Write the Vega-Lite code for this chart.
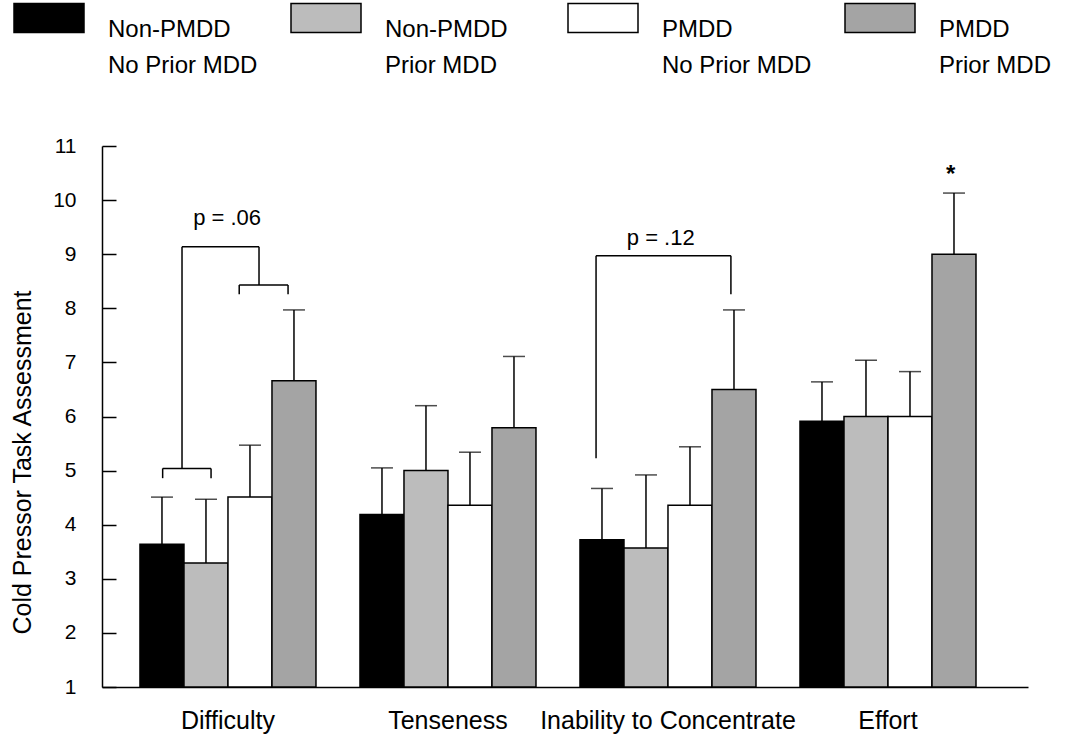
{
  "$schema": "https://vega.github.io/schema/vega-lite/v6.json",
  "width": 926,
  "height": 541,
  "autosize": {"type": "none"},
  "padding": {"left": 102, "top": 146, "right": 50, "bottom": 53},
  "background": "white",
  "config": {
    "font": "Liberation Sans",
    "view": {"stroke": null},
    "style": {"guide-label": {"lineHeight": 36}},
    "axis": {"labelColor": "black", "titleColor": "black", "domainColor": "black", "tickColor": "black", "grid": false, "domainWidth": 1.5, "tickWidth": 1.5, "labelLimit": 400}
  },
  "datasets": {
    "bars": [
      {"measure": "Difficulty", "group": "Non-PMDD, No Prior MDD", "mean": 3.64, "upper": 4.51},
      {"measure": "Difficulty", "group": "Non-PMDD, Prior MDD", "mean": 3.29, "upper": 4.47},
      {"measure": "Difficulty", "group": "PMDD, No Prior MDD", "mean": 4.51, "upper": 5.47},
      {"measure": "Difficulty", "group": "PMDD, Prior MDD", "mean": 6.66, "upper": 7.97},
      {"measure": "Tenseness", "group": "Non-PMDD, No Prior MDD", "mean": 4.19, "upper": 5.05},
      {"measure": "Tenseness", "group": "Non-PMDD, Prior MDD", "mean": 5.0, "upper": 6.2},
      {"measure": "Tenseness", "group": "PMDD, No Prior MDD", "mean": 4.36, "upper": 5.34},
      {"measure": "Tenseness", "group": "PMDD, Prior MDD", "mean": 5.79, "upper": 7.11},
      {"measure": "Inability to Concentrate", "group": "Non-PMDD, No Prior MDD", "mean": 3.72, "upper": 4.67},
      {"measure": "Inability to Concentrate", "group": "Non-PMDD, Prior MDD", "mean": 3.57, "upper": 4.92},
      {"measure": "Inability to Concentrate", "group": "PMDD, No Prior MDD", "mean": 4.36, "upper": 5.44},
      {"measure": "Inability to Concentrate", "group": "PMDD, Prior MDD", "mean": 6.5, "upper": 7.97},
      {"measure": "Effort", "group": "Non-PMDD, No Prior MDD", "mean": 5.91, "upper": 6.64},
      {"measure": "Effort", "group": "Non-PMDD, Prior MDD", "mean": 6.0, "upper": 7.04},
      {"measure": "Effort", "group": "PMDD, No Prior MDD", "mean": 6.0, "upper": 6.83},
      {"measure": "Effort", "group": "PMDD, Prior MDD", "mean": 9.0, "upper": 10.13}
    ],
    "brackets": [
      {"x": 0.703, "x2": 0.923, "y": 5.04, "y2": 5.04},
      {"x": 0.703, "x2": 0.703, "y": 5.04, "y2": 4.86},
      {"x": 0.923, "x2": 0.923, "y": 5.04, "y2": 4.86},
      {"x": 0.791, "x2": 0.791, "y": 5.04, "y2": 9.14},
      {"x": 0.791, "x2": 1.141, "y": 9.14, "y2": 9.14},
      {"x": 1.141, "x2": 1.141, "y": 9.14, "y2": 8.43},
      {"x": 1.051, "x2": 1.273, "y": 8.43, "y2": 8.43},
      {"x": 1.051, "x2": 1.051, "y": 8.43, "y2": 8.26},
      {"x": 1.273, "x2": 1.273, "y": 8.43, "y2": 8.26},
      {"x": 2.673, "x2": 2.673, "y": 5.23, "y2": 8.97},
      {"x": 2.673, "x2": 3.286, "y": 8.97, "y2": 8.97},
      {"x": 3.286, "x2": 3.286, "y": 8.97, "y2": 8.26}
    ],
    "notes": [
      {"label": "p = .06", "x": 0.996, "y": 9.66},
      {"label": "p = .12", "x": 2.967, "y": 9.3}
    ],
    "stars": [
      {"label": "*", "x": 4.285, "y": 10.46}
    ]
  },
  "layer": [
    {
      "data": {"name": "bars"},
      "layer": [
        {
          "mark": {"type": "bar", "stroke": "black", "strokeWidth": 1.5},
          "encoding": {
            "x": {
              "field": "measure", "type": "nominal",
              "scale": {"domain": ["Difficulty", "Tenseness", "Inability to Concentrate", "Effort"], "paddingInner": 0.2, "paddingOuter": 0.2045, "align": 0.422},
              "axis": {"title": null, "ticks": false, "labelAngle": 0, "labelFontSize": 25, "labelPadding": 21, "labelColor": "black", "labelLimit": 400}
            },
            "xOffset": {
              "field": "group", "type": "nominal",
              "scale": {"domain": ["Non-PMDD, No Prior MDD", "Non-PMDD, Prior MDD", "PMDD, No Prior MDD", "PMDD, Prior MDD"], "paddingInner": 0, "paddingOuter": 0}
            },
            "y": {
              "field": "mean", "type": "quantitative",
              "scale": {"domain": [1, 11], "nice": false, "zero": false},
              "axis": {
                "values": [1, 2, 3, 4, 5, 6, 7, 8, 9, 10, 11],
                "tickSize": -14, "labelPadding": 40, "labelFontSize": 21,
                "title": "Cold Pressor Task Assessment", "titleFontSize": 25, "titleFontWeight": "normal",
                "titleX": -72, "titleY": 316, "titleBaseline": "alphabetic", "titleAngle": -90, "titleAlign": "center"
              }
            },
            "y2": {"datum": 1},
            "fill": {
              "field": "group", "type": "nominal",
              "scale": {"domain": ["Non-PMDD, No Prior MDD", "Non-PMDD, Prior MDD", "PMDD, No Prior MDD", "PMDD, Prior MDD"], "range": ["#000000", "#bcbcbc", "#ffffff", "#a4a4a4"]},
              "legend": {
                "title": null, "orient": "none", "legendX": -89, "legendY": -164,
                "direction": "horizontal", "columns": 4,
                "symbolType": "M-1,-0.414H1V0.414H-1Z", "symbolSize": 4900,
                "symbolStrokeColor": "black", "symbolStrokeWidth": 1.5, "symbolOpacity": 1,
                "labelFontSize": 24, "labelColor": "black", "labelOffset": 23, "labelBaseline": "top", "labelLimit": 400,
                "labelExpr": "split(datum.label, ', ')",
                "columnPadding": 30, "gridAlign": "all", "padding": 0, "rowPadding": 0
              }
            }
          }
        },
        {
          "mark": {"type": "rule", "color": "black", "strokeWidth": 1.5},
          "encoding": {
            "x": {"field": "measure", "type": "nominal"},
            "xOffset": {"field": "group", "type": "nominal"},
            "y": {"field": "mean", "type": "quantitative"},
            "y2": {"field": "upper"}
          }
        },
        {
          "mark": {"type": "tick", "color": "black", "thickness": 1.5, "size": 22},
          "encoding": {
            "x": {"field": "measure", "type": "nominal"},
            "xOffset": {"field": "group", "type": "nominal"},
            "y": {"field": "upper", "type": "quantitative"}
          }
        }
      ]
    },
    {
      "layer": [
        {
          "data": {"name": "brackets"},
          "mark": {"type": "rule", "color": "black", "strokeWidth": 1.5},
          "encoding": {
            "x": {"field": "x", "type": "quantitative", "scale": {"domain": [0.4273, 4.6364], "nice": false, "zero": false}, "axis": null},
            "x2": {"field": "x2"},
            "y": {"field": "y", "type": "quantitative"},
            "y2": {"field": "y2"}
          }
        },
        {
          "data": {"name": "notes"},
          "mark": {"type": "text", "fontSize": 22, "color": "black", "align": "center", "baseline": "middle"},
          "encoding": {
            "x": {"field": "x", "type": "quantitative"},
            "y": {"field": "y", "type": "quantitative"},
            "text": {"field": "label"}
          }
        },
        {
          "data": {"name": "stars"},
          "mark": {"type": "text", "fontSize": 24, "fontWeight": "bold", "color": "black", "align": "center", "baseline": "middle"},
          "encoding": {
            "x": {"field": "x", "type": "quantitative"},
            "y": {"field": "y", "type": "quantitative"},
            "text": {"field": "label"}
          }
        }
      ]
    }
  ],
  "resolve": {"scale": {"x": "independent"}}
}
